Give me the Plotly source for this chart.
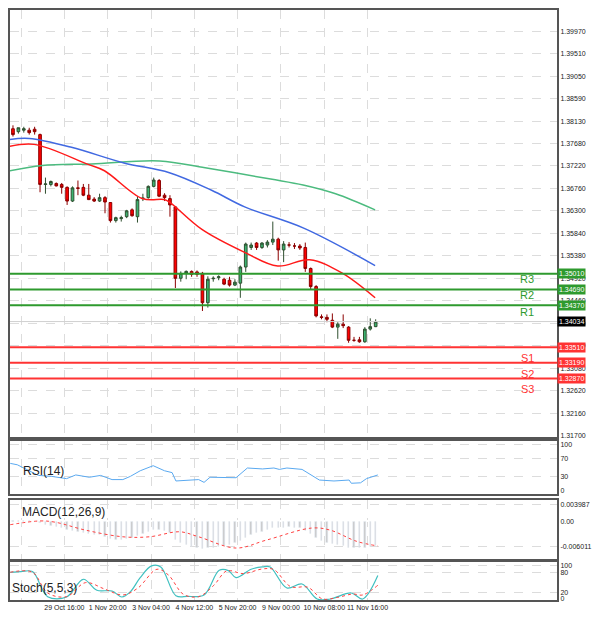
import plotly.graph_objects as go
from plotly.subplots import make_subplots

# 4H candles (index 1..68)
opens = [1.3798, 1.3792, 1.3795, 1.3795, 1.3797, 1.3786, 1.3684, 1.3684, 1.3686, 1.3684,
         1.3678, 1.3650, 1.3677, 1.3678, 1.3662, 1.3654, 1.3650, 1.3657, 1.3647, 1.3610,
         1.3614, 1.3618, 1.3632, 1.3618, 1.3655, 1.3657, 1.3680, 1.3692, 1.3662, 1.3655,
         1.3638, 1.3492, 1.3502, 1.3506, 1.3505, 1.3502, 1.3442, 1.3491, 1.3493, 1.3490,
         1.3488, 1.3478, 1.3482, 1.3515, 1.3555, 1.3564, 1.3555, 1.3560, 1.3566, 1.3572,
         1.3550, 1.3560, 1.3558, 1.3558, 1.3555, 1.3512, 1.3475, 1.3413, 1.3412, 1.3406,
         1.3392, 1.3398, 1.3392, 1.3365, 1.3366, 1.3362, 1.3388, 1.3393]
highs = [1.3805, 1.3800, 1.3802, 1.3800, 1.3802, 1.3788, 1.3698, 1.3692, 1.3688, 1.3687,
         1.3680, 1.3680, 1.3692, 1.3685, 1.3685, 1.3658, 1.3665, 1.3660, 1.3648, 1.3618,
         1.3620, 1.3632, 1.3635, 1.3660, 1.3665, 1.3682, 1.3698, 1.3695, 1.3666, 1.3662,
         1.3640, 1.3506, 1.3508, 1.3508, 1.3508, 1.3505, 1.3496, 1.3496, 1.3498, 1.3493,
         1.3495, 1.3490, 1.3518, 1.3565, 1.3565, 1.3566, 1.3566, 1.3570, 1.3608, 1.3575,
         1.3568, 1.3566, 1.3564, 1.3562, 1.3565, 1.3514, 1.3478, 1.3418, 1.3418, 1.3420,
         1.3402, 1.3418, 1.3394, 1.3372, 1.3372, 1.3392, 1.3410, 1.3408]
lows = [1.3782, 1.3788, 1.3790, 1.3786, 1.3786, 1.3668, 1.3665, 1.3680, 1.3680, 1.3665,
        1.3642, 1.3648, 1.3662, 1.3660, 1.3652, 1.3648, 1.3648, 1.3625, 1.3606, 1.3606,
        1.3608, 1.3615, 1.3618, 1.3606, 1.3650, 1.3655, 1.3678, 1.3658, 1.3650, 1.3618,
        1.3472, 1.3485, 1.3490, 1.3495, 1.3495, 1.3425, 1.3432, 1.3485, 1.3488, 1.3478,
        1.3475, 1.3476, 1.3452, 1.3505, 1.3550, 1.3550, 1.3552, 1.3555, 1.3560, 1.3528,
        1.3525, 1.3555, 1.3552, 1.3550, 1.3505, 1.3468, 1.3412, 1.3408, 1.3402, 1.3390,
        1.3368, 1.3390, 1.3360, 1.3362, 1.3360, 1.3360, 1.3385, 1.3392]
closes = [1.3786, 1.3800, 1.3798, 1.3790, 1.3792, 1.3684, 1.3685, 1.3690, 1.3681, 1.3678,
          1.3650, 1.3677, 1.3676, 1.3662, 1.3653, 1.3650, 1.3657, 1.3648, 1.3610, 1.3616,
          1.3616, 1.3630, 1.3620, 1.3653, 1.3656, 1.3680, 1.3693, 1.3660, 1.3657, 1.3642,
          1.3492, 1.3502, 1.3506, 1.3500, 1.3500, 1.3442, 1.3490, 1.3492, 1.3495, 1.3480,
          1.3478, 1.3484, 1.3515, 1.3562, 1.3560, 1.3555, 1.3564, 1.3566, 1.3572, 1.3550,
          1.3562, 1.3560, 1.3558, 1.3554, 1.3512, 1.3475, 1.3415, 1.3412, 1.3408, 1.3392,
          1.3398, 1.3395, 1.3365, 1.3365, 1.3362, 1.3388, 1.3393, 1.3403]
idx = list(range(1, len(closes) + 1))

# moving averages (sampled points: candle position, price)
ma_red_x = [0.4, 4.9, 14.9, 17.9, 24.9, 28.9, 29.9, 35.9, 43.8, 49.9, 55.8, 61.9, 67.9]
ma_red_y = [1.3762, 1.3766, 1.3725, 1.3712, 1.3655, 1.3653, 1.3648, 1.3592, 1.3545, 1.3517, 1.3530, 1.3502, 1.3452]
ma_blue_x = [0.4, 4.0, 11.8, 21.5, 29.9, 37.7, 43.8, 54.6, 67.9]
ma_blue_y = [1.3776, 1.3778, 1.3760, 1.3728, 1.3708, 1.3672, 1.3638, 1.3595, 1.3518]
ma_green_x = [0.4, 6.4, 15.5, 28.1, 36.5, 48.6, 54.6, 60.6, 67.9]
ma_green_y = [1.3712, 1.3723, 1.3726, 1.3732, 1.3718, 1.3695, 1.3683, 1.3665, 1.3632]

res_levels = [1.35010, 1.34690, 1.34370]
sup_levels = [1.33510, 1.33190, 1.32870]
res_names = ["R3", "R2", "R1"]
sup_names = ["S1", "S2", "S3"]
last_price = 1.34034

price_ticks = [1.39970, 1.39510, 1.39050, 1.38590, 1.38130, 1.37680, 1.37220, 1.36760, 1.36300,
               1.35840, 1.35380, 1.34920, 1.34460, 1.34000, 1.33540, 1.33080, 1.32620, 1.32160, 1.31700]

rsi_x = [0.5, 1.8, 5.7, 8.1, 10.9, 12.6, 15.1, 17.2, 19.3, 21.3, 22.7, 24.5, 26.9, 29, 30.4, 31.1, 35.3,
         36.3, 37.4, 42.2, 44.3, 47.1, 49.2, 50.2, 51.6, 54.4, 57.6, 60.3, 63.1, 63.5, 65.2, 66.3, 68.4]
rsi_y = [59, 56, 33, 31, 26, 34, 29, 33, 24, 24, 31, 43, 54, 43, 39, 21, 24,
         18, 29, 28, 49, 47, 49, 46, 49, 46, 23, 21, 23, 16, 17, 26, 34]

macd_hist = [0.0002, 0.0002, 0.0001, 0.0001, 0.0000, -0.0003,
             -0.0008, -0.0010, -0.0012, -0.0015, -0.0020, -0.0022, -0.0024, -0.0026,
             -0.0029, -0.0031, -0.0033, -0.0036, -0.0042, -0.0044, -0.0044, -0.0042,
             -0.0040, -0.0034, -0.0029, -0.0024, -0.0019, -0.0020, -0.0022, -0.0026,
             -0.0045, -0.0052, -0.0056, -0.0060, -0.0062, -0.0066, -0.0064, -0.0062,
             -0.0060, -0.0058, -0.0056, -0.0052, -0.0046, -0.0038, -0.0032, -0.0028,
             -0.0024, -0.0020, -0.0016, -0.0016, -0.0014, -0.0013, -0.0014, -0.0016,
             -0.0022, -0.0030, -0.0040, -0.0046, -0.0050, -0.0054, -0.0056, -0.0058,
             -0.0062, -0.0064, -0.0064, -0.0062, -0.0060, -0.0058]
macd_sig_x = [0.5, 6, 8.8, 14.4, 21.3, 26.2, 31.8, 35.3, 42.2, 47.8, 56.2, 59.6, 64.5, 68.4]
macd_sig_y = [-0.0008, 0.0001, -0.0002, -0.0021, -0.0037, -0.0037, -0.0025, -0.0037, -0.0064,
              -0.0045, -0.0016, -0.0021, -0.0048, -0.0059]

stoch_k_x = [0.5, 2.5, 4.6, 7.4, 10.9, 14, 16.5, 19.3, 21.1, 22.7, 24.5, 26.6, 28.3, 31.1, 33.2, 36.3,
             39.1, 40.8, 42.2, 45, 47.1, 48.5, 51.6, 54.4, 57.2, 59.6, 63.5, 65.6, 68.4]
stoch_k_y = [80, 82, 82, 7, 6, 59, 26, 24, 6, 22, 64, 99, 96, 10, 8, 12,
             86, 85, 64, 89, 96, 96, 33, 45, 0, 0, 18, 0, 70]
stoch_d_x = [0.5, 4.6, 7.4, 10.9, 14.4, 17.9, 21.3, 24.1, 27.6, 29.7, 32.5, 35.3, 38.1, 40.5, 43.6,
             47.1, 49.2, 52.3, 55.5, 58.2, 61, 63.8, 65.6, 68.4]
stoch_d_y = [80, 80, 18, 7, 49, 30, 12, 33, 89, 72, 14, 7, 41, 84, 76, 90, 88, 37, 35, 0, 5, 15, 12, 41]

tick_pos = [2.5, 10.5, 18.5, 26.5, 34.5, 42.5, 50.5, 58.5, 66.5]
tick_text = ["28 Oct 08:00", "29 Oct 16:00", "1 Nov 20:00", "3 Nov 04:00", "4 Nov 12:00",
             "5 Nov 20:00", "9 Nov 00:00", "10 Nov 08:00", "11 Nov 16:00"]

fig = make_subplots(rows=4, cols=1, shared_xaxes=True)

fig.add_trace(go.Candlestick(x=idx, open=opens, high=highs, low=lows, close=closes,
                             increasing=dict(fillcolor="#3cb371", line=dict(color="#2f4f2f", width=1)),
                             decreasing=dict(fillcolor="#ff0000", line=dict(color="#8b0000", width=1)),
                             whiskerwidth=0, showlegend=False), row=1, col=1)
fig.add_trace(go.Scatter(x=ma_green_x, y=ma_green_y, mode="lines", line=dict(color="#4cbb7f", width=1.5),
                         line_shape="spline", showlegend=False), row=1, col=1)
fig.add_trace(go.Scatter(x=ma_blue_x, y=ma_blue_y, mode="lines", line=dict(color="#4169e1", width=1.5),
                         line_shape="spline", showlegend=False), row=1, col=1)
fig.add_trace(go.Scatter(x=ma_red_x, y=ma_red_y, mode="lines", line=dict(color="#ff1a1a", width=1.5),
                         line_shape="spline", showlegend=False), row=1, col=1)

fig.add_trace(go.Scatter(x=rsi_x, y=rsi_y, mode="lines", line=dict(color="#5aa9f0", width=1),
                         showlegend=False), row=2, col=1)
fig.add_trace(go.Bar(x=idx, y=macd_hist, marker_color="#c8c8c8", width=0.25, showlegend=False), row=3, col=1)
fig.add_trace(go.Scatter(x=macd_sig_x, y=macd_sig_y, mode="lines", line=dict(color="#ff4040", width=1, dash="dot"),
                         line_shape="spline", showlegend=False), row=3, col=1)
fig.add_trace(go.Scatter(x=stoch_k_x, y=stoch_k_y, mode="lines", line=dict(color="#40c0c0", width=1.2),
                         line_shape="spline", showlegend=False), row=4, col=1)
fig.add_trace(go.Scatter(x=stoch_d_x, y=stoch_d_y, mode="lines", line=dict(color="#ff4040", width=1, dash="dot"),
                         line_shape="spline", showlegend=False), row=4, col=1)

# support / resistance lines and labels
for lv in res_levels:
    fig.add_hline(y=lv, line=dict(color="#2e9a2e", width=2), row=1, col=1)
    fig.add_annotation(x=1, xref="paper", y=lv, yref="y", text=f"{lv:.5f}", showarrow=False, xanchor="left",
                       bgcolor="#2e9a2e", font=dict(color="white", size=7), borderpad=1)
for lv in sup_levels:
    fig.add_hline(y=lv, line=dict(color="#ff3333", width=2), row=1, col=1)
    fig.add_annotation(x=1, xref="paper", y=lv, yref="y", text=f"{lv:.5f}", showarrow=False, xanchor="left",
                       bgcolor="#ff3333", font=dict(color="white", size=7), borderpad=1)
for lv, name in zip(res_levels[1:] + [last_price], res_names):
    fig.add_annotation(x=96, y=lv, xref="x", yref="y", text=name, showarrow=False, yanchor="bottom",
                       font=dict(color="#2e9a2e", size=11), yshift=2)
for lv, name in zip(sup_levels, sup_names):
    fig.add_annotation(x=96, y=lv, xref="x", yref="y", text=name, showarrow=False, yanchor="top",
                       font=dict(color="#ff3333", size=11), yshift=-3)
fig.add_hline(y=last_price, line=dict(color="#d0d0d0", width=1), row=1, col=1)
fig.add_annotation(x=1, xref="paper", y=last_price, yref="y", text=f"{last_price:.5f}", showarrow=False,
                   xanchor="left", bgcolor="black", font=dict(color="white", size=7), borderpad=1)

for txt, yr, yv, xp in [("RSI(14)", "y2", 62, 0.02), ("MACD(12,26,9)", "y3", 0.0045, 0.018),
                        ("Stoch(5,5,3)", "y4", 60, 0.0)]:
    fig.add_annotation(x=xp, xref="paper", y=yv, yref=yr, text=txt,
                       showarrow=False, xanchor="left", yanchor="top", font=dict(color="#222", size=12))

grid = dict(showgrid=True, gridcolor="#dcdcdc", griddash="dash", gridwidth=1)
axis_line = dict(showline=True, mirror=True, linecolor="#555", linewidth=2)
fig.update_xaxes(range=[0.45, 101.5], tickvals=tick_pos, ticktext=tick_text, **grid, **axis_line,
                 tickfont=dict(size=7, color="#222"), tickangle=0, rangeslider_visible=False, ticks="")
fig.update_xaxes(showticklabels=False)
fig.update_xaxes(showticklabels=True, row=4, col=1)

ytick_font = dict(size=7, color="#222")
fig.update_layout(
    width=584, height=603, margin=dict(l=0, r=28, t=0, b=10),
    paper_bgcolor="white", plot_bgcolor="white", bargap=0,
    font=dict(family="Liberation Sans, Arial", size=7, color="#222"),
    yaxis=dict(domain=[0.277, 1], range=[1.3168, 1.4041], side="right", tickvals=price_ticks,
               ticktext=[f"{t:.5f}" for t in price_ticks], tickfont=ytick_font, **grid, **axis_line),
    yaxis2=dict(domain=[0.179, 0.270], range=[-8, 108], side="right", tickvals=[0, 30, 70, 100],
                tickfont=ytick_font, **grid, **axis_line),
    yaxis3=dict(domain=[0.069, 0.170], range=[-0.0091, 0.0052], side="right", tickvals=[-0.006011, 0, 0.003987],
                ticktext=["-0.006011", "0.00", "0.003987"], tickfont=ytick_font, **grid, **axis_line),
    yaxis4=dict(domain=[0, 0.064], range=[-3, 110], side="right", tickvals=[0, 20, 80, 100],
                tickfont=ytick_font, **grid, **axis_line),
)
fig.update_layout(xaxis_rangeslider_visible=False)

fig.write_html("out.html")
